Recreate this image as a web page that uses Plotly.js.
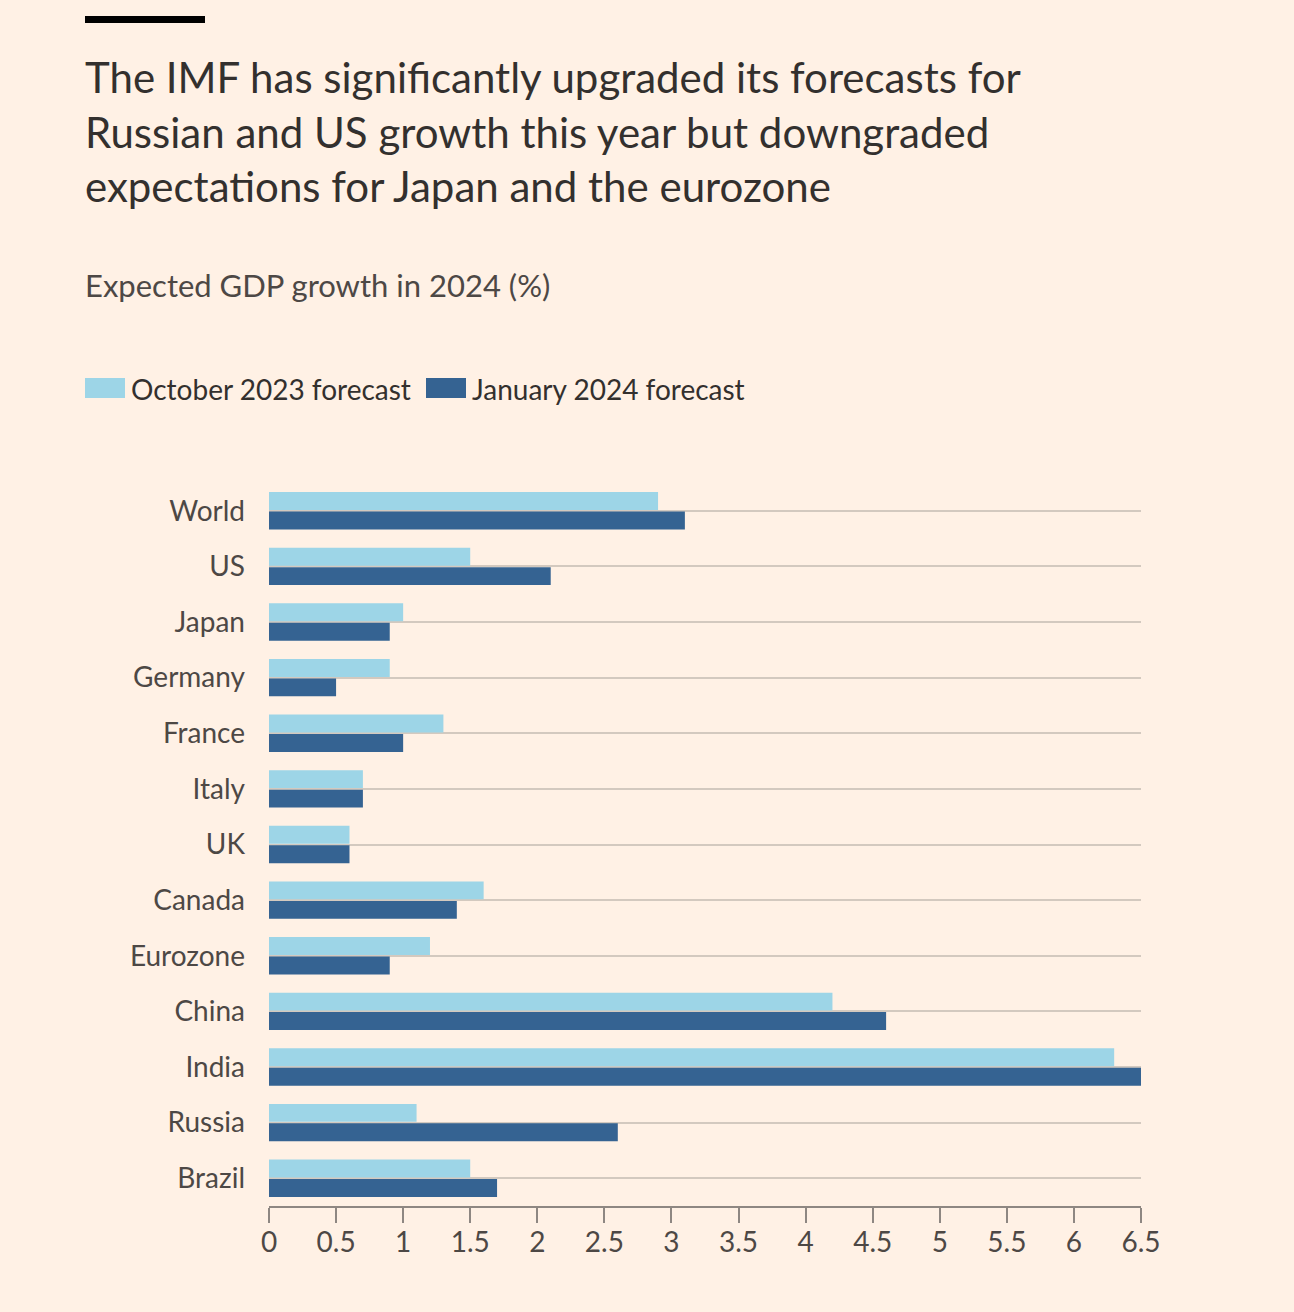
<!DOCTYPE html>
<html>
<head>
<meta charset="utf-8">
<script src="https://cdn.plot.ly/plotly-3.0.1.min.js"></script>
<style>html,body{margin:0;padding:0;background:#fff1e5;}#chart{width:1294px;height:1312px;}</style>
</head>
<body>
<div id="chart"></div>
<script>
// ---- data ----
const countries = ["World","US","Japan","Germany","France","Italy","UK","Canada","Eurozone","China","India","Russia","Brazil"];
const october2023 = [2.9,1.5,1.0,0.9,1.3,0.7,0.6,1.6,1.2,4.2,6.3,1.1,1.5];
const january2024 = [3.1,2.1,0.9,0.5,1.0,0.7,0.6,1.4,0.9,4.6,6.5,2.6,1.7];
const seriesNames = ["October 2023 forecast","January 2024 forecast"];
const xTicks = [0,0.5,1,1.5,2,2.5,3,3.5,4,4.5,5,5.5,6,6.5];
const xTickLabels = ["0","0.5","1","1.5","2","2.5","3","3.5","4","4.5","5","5.5","6","6.5"];
const titleText = "The IMF has significantly upgraded its forecasts for<br>Russian and US growth this year but downgraded<br>expectations for Japan and the eurozone";
const subtitleText = "Expected GDP growth in 2024 (%)";

// ---- layout helpers ----
const W = 1294, H = 1312;
const M = {l:269, r:153, t:483, b:106};
const PW = W - M.l - M.r, PH = H - M.t - M.b;
const px = x => (x - M.l) / PW;
const py = y => (H - M.b - y) / PH;

const LIGHT = "#9dd5e7", DARK = "#356392";
const FONT = "Lato, 'Open Sans', sans-serif";

const traces = [
  {type:"bar", orientation:"h", name:seriesNames[0], y:countries, x:october2023,
   marker:{color:LIGHT, line:{width:0}}, hoverinfo:"x+y"},
  {type:"bar", orientation:"h", name:seriesNames[1], y:countries, x:january2024,
   marker:{color:DARK, line:{width:0}}, hoverinfo:"x+y"}
];

const layout = {
  width:W, height:H,
  margin:M,
  paper_bgcolor:"#fff1e5", plot_bgcolor:"#fff1e5",
  font:{family:FONT, color:"#4d4845", size:28},
  showlegend:false,
  barmode:"group", bargap:0.3, bargroupgap:0.08,
  title:{text:titleText, x:85/W, xanchor:"left", xref:"container",
         y:1-93/H, yanchor:"middle", yref:"container",
         font:{family:FONT, size:42, color:"#33302e"}},
  xaxis:{range:[0,6.5], tickvals:xTicks, ticktext:xTickLabels,
         showgrid:false, zeroline:false, showline:true, linecolor:"#8e8782", linewidth:2,
         ticks:"outside", ticklen:15, tickwidth:2, tickcolor:"#8e8782", ticklabelstandoff:-5,
         tickfont:{size:28, color:"#4d4845"}, fixedrange:true},
  yaxis:{type:"category", autorange:"reversed", showgrid:true, gridcolor:"#d3c9bf", gridwidth:2,
         zeroline:false, showline:false, ticks:"", ticklabelstandoff:23,
         tickfont:{size:28, color:"#4d4845"}, fixedrange:true},
  shapes:[
    {type:"rect", xref:"paper", yref:"paper", x0:px(85), x1:px(205), y0:py(23), y1:py(16),
     fillcolor:"#000000", line:{width:0}},
    {type:"rect", xref:"paper", yref:"paper", x0:px(85), x1:px(125), y0:py(398), y1:py(378),
     fillcolor:LIGHT, line:{width:0}},
    {type:"rect", xref:"paper", yref:"paper", x0:px(426), x1:px(466), y0:py(398), y1:py(378),
     fillcolor:DARK, line:{width:0}}
  ],
  annotations:[
    {text:subtitleText, xref:"paper", yref:"paper", x:px(83), y:py(285), xanchor:"left", yanchor:"middle",
     showarrow:false, font:{family:FONT, size:31, color:"#4d4845"}},
    {text:seriesNames[0], xref:"paper", yref:"paper", x:px(129), y:py(389), xanchor:"left", yanchor:"middle",
     showarrow:false, font:{family:FONT, size:28, color:"#33302e"}},
    {text:seriesNames[1], xref:"paper", yref:"paper", x:px(470), y:py(389), xanchor:"left", yanchor:"middle",
     showarrow:false, font:{family:FONT, size:28, color:"#33302e"}}
  ]
};

Plotly.newPlot("chart", traces, layout, {displayModeBar:false, staticPlot:true});
</script>
</body>
</html>
